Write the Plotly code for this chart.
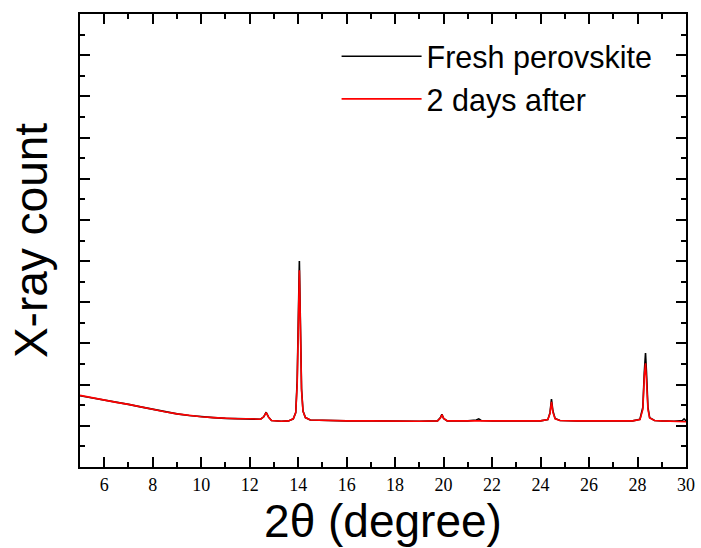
import plotly.graph_objects as go

# ---- data ----
x_fresh = [5.0, 5.5, 6.0, 6.5, 7.0, 7.5, 8.0, 8.5, 9.0, 9.5, 10.0, 10.5, 11.0, 11.5, 12.0,
           12.45, 12.58, 12.68, 12.78, 12.9, 13.3, 13.6, 13.8, 13.9, 13.96, 14.01, 14.05,
           14.09, 14.14, 14.2, 14.3, 14.5, 15.0, 16.0, 17.0, 18.0, 19.0, 19.75, 19.87,
           19.93, 20.0, 20.15, 21.0, 21.35, 21.45, 21.55, 22.0, 23.0, 24.0, 24.3, 24.39,
           24.45, 24.51, 24.6, 24.8, 25.5, 26.0, 27.0, 27.8, 28.1, 28.22, 28.28, 28.33,
           28.37, 28.39, 28.43, 28.5, 28.7, 29.0, 29.5, 29.85, 29.92, 30.0]
y_fresh = [1.73, 1.68, 1.63, 1.58, 1.52, 1.46, 1.40, 1.34, 1.29, 1.25, 1.22, 1.20, 1.18, 1.17, 1.17,
           1.16, 1.22, 1.33, 1.21, 1.13, 1.11, 1.12, 1.17, 1.32, 2.1, 4.0, 5.0,
           3.6, 1.9, 1.36, 1.20, 1.14, 1.13, 1.12, 1.12, 1.11, 1.11, 1.12, 1.20,
           1.28, 1.18, 1.12, 1.12, 1.14, 1.17, 1.13, 1.12, 1.12, 1.12, 1.15, 1.32,
           1.65, 1.36, 1.18, 1.13, 1.12, 1.12, 1.12, 1.12, 1.16, 1.45, 2.3, 2.77,
           2.3, 2.04, 1.45, 1.20, 1.13, 1.12, 1.11, 1.13, 1.17, 1.12]

x_aged = [5.0, 5.5, 6.0, 6.5, 7.0, 7.5, 8.0, 8.5, 9.0, 9.5, 10.0, 10.5, 11.0, 11.5, 12.0,
          12.45, 12.58, 12.68, 12.78, 12.9, 13.3, 13.6, 13.8, 13.9, 13.96, 14.01, 14.05,
          14.09, 14.14, 14.2, 14.3, 14.5, 15.0, 16.0, 17.0, 18.0, 19.0, 19.75, 19.87,
          19.93, 20.0, 20.15, 21.0, 22.0, 23.0, 24.0, 24.3, 24.39, 24.45, 24.51, 24.6,
          24.8, 25.5, 26.0, 27.0, 27.8, 28.1, 28.22, 28.28, 28.33, 28.37, 28.43, 28.5,
          28.7, 29.0, 29.5, 30.0]
y_aged = [1.74, 1.68, 1.62, 1.57, 1.52, 1.46, 1.39, 1.34, 1.29, 1.25, 1.22, 1.20, 1.18, 1.17, 1.17,
          1.16, 1.22, 1.32, 1.21, 1.13, 1.11, 1.12, 1.17, 1.32, 2.0, 3.9, 4.78,
          3.5, 1.85, 1.35, 1.20, 1.14, 1.13, 1.12, 1.12, 1.11, 1.11, 1.12, 1.19,
          1.27, 1.18, 1.12, 1.12, 1.12, 1.12, 1.12, 1.15, 1.30, 1.58, 1.33, 1.17,
          1.13, 1.12, 1.12, 1.12, 1.12, 1.15, 1.40, 2.2, 2.52, 2.1, 1.40, 1.19,
          1.13, 1.12, 1.11, 1.10]

series_names = ["Fresh perovskite", "2 days after"]
series_colors = ["#000000", "#ff0000"]

x_ticks = [6, 8, 10, 12, 14, 16, 18, 20, 22, 24, 26, 28, 30]

fig = go.Figure()
fig.add_trace(go.Scatter(x=x_fresh, y=y_fresh, mode="lines", name=series_names[0],
                         line=dict(color=series_colors[0], width=1.6)))
fig.add_trace(go.Scatter(x=x_aged, y=y_aged, mode="lines", name=series_names[1],
                         line=dict(color=series_colors[1], width=1.6)))

axis_common = dict(showline=True, linecolor="black", linewidth=2, mirror="ticks",
                   ticks="inside", ticklen=10, tickwidth=2, tickcolor="black",
                   showgrid=False, zeroline=False)

fig.update_xaxes(range=[5, 30], tickvals=x_ticks, ticktext=[str(v) for v in x_ticks],
                 tickfont=dict(family="Liberation Serif", size=18, color="black"),
                 minor=dict(dtick=1, tick0=0, ticks="inside", ticklen=5, tickwidth=2,
                            tickcolor="black", showgrid=False),
                 title=dict(text="2θ (degree)", standoff=8,
                            font=dict(family="Liberation Sans", size=46, color="black")),
                 **axis_common)
fig.update_yaxes(range=[0, 11], dtick=1, tick0=0, showticklabels=False,
                 minor=dict(dtick=0.5, tick0=0, ticks="inside", ticklen=5, tickwidth=2,
                            tickcolor="black", showgrid=False),
                 title=dict(text="X-ray count", standoff=16,
                            font=dict(family="Liberation Sans", size=46, color="black")),
                 **axis_common)

fig.update_layout(
    width=701, height=548,
    margin=dict(l=80, r=15, t=14, b=81, autoexpand=False),
    plot_bgcolor="white", paper_bgcolor="white",
    showlegend=True,
    legend=dict(x=0.4234, y=0.965, xanchor="left", yanchor="top",
                bgcolor="rgba(0,0,0,0)", borderwidth=0, itemwidth=80,
                font=dict(family="Liberation Sans", size=30.5, color="black"),
                tracegroupgap=0),
)

fig.write_html("out.html")
